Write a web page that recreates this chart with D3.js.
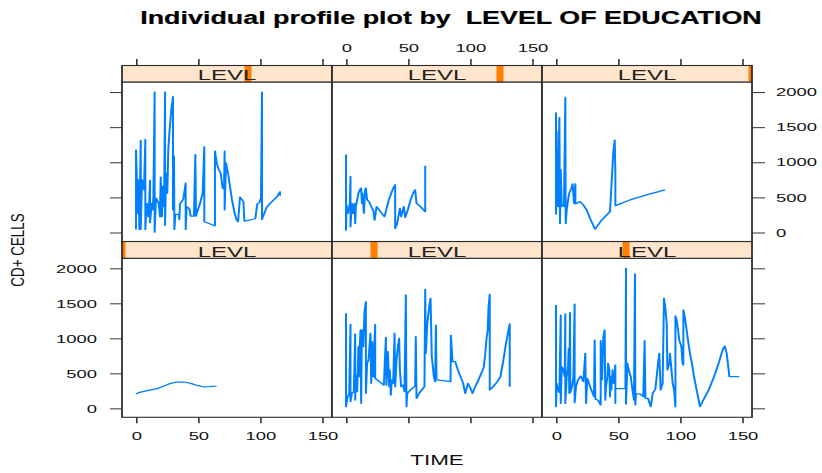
<!DOCTYPE html>
<html>
<head>
<meta charset="utf-8">
<script src="https://cdn.jsdelivr.net/npm/d3@7"></script>
<style>
  body { margin: 0; background: #fff; }
  svg { display: block; }
  text { font-family: Arial, "Liberation Sans", Helvetica, sans-serif; }
</style>
</head>
<body>
<svg id="chart" width="822" height="473"></svg>
<script>
// ---- data: [TIME, CD+ CELLS] in recorded order, one array per level ----
const levl1 = [[0,205],[3,229],[9,252],[17,281],[22.5,319],[28,357],[33,376],[39,376],[44,357],[49,329],[55,305],[59,310],[65,319]];

const levl2 = [[0,1357],[0,24],[1,143],[2.6,214],[3.6,1200],[3.6,95],[4.7,214],[6.3,238],[7.4,1062],[7.4,119],[7.9,476],[8.5,452],[9,238],[10,881],[10.6,452],[11.1,881],[11.7,1119],[12.2,71],[12.8,1119],[13.9,881],[14.4,1119],[14.9,1381],[16,1524],[16,214],[17,643],[18.1,690],[19.7,1071],[20.3,357],[21.1,952],[21.9,452],[23.5,1200],[23.5,429],[30.5,333],[32.1,1014],[32.6,333],[33.7,810],[34.8,310],[35.3,548],[36.1,190],[36.9,405],[38,357],[39.1,1071],[39.6,310],[40.7,690],[41.8,881],[42.8,1000],[43.4,548],[44.4,310],[46,333],[47.1,238],[48.2,1619],[48.7,24],[49.3,214],[51.9,262],[55.7,319],[56.2,1024],[56.8,143],[58.9,214],[63.2,310],[63.8,1700],[64.3,786],[65.4,1190],[67,1452],[68.1,1571],[69.1,738],[70.8,452],[71.8,381],[72.4,1190],[72.9,405],[84.2,381],[84.5,1043],[85.8,667],[88,667],[90.1,548],[92.2,452],[94.4,357],[96,214],[98.2,357],[100.3,286],[101.9,214],[103.5,286],[106.7,405],[111,586],[112.1,762],[113.1,976],[114.2,1119],[114.8,1443],[115.8,1629],[115.8,262],[118.6,310],[121.8,381],[124.4,452],[126.6,667],[128.7,905],[130.9,1119],[131.9,1205],[131.9,310]];

const levl3 = [[0,1476],[0,24],[0.5,357],[1.6,262],[2.7,224],[3.8,1333],[3.8,71],[4.6,595],[5.9,548],[7,452],[7.5,1348],[7.5,71],[8.6,452],[9.7,595],[10.2,857],[10.7,214],[11.3,1367],[11.5,229],[12.9,310],[14,452],[15,1490],[15,81],[16.1,310],[17.7,405],[19.9,462],[22,381],[23.6,786],[24.2,71],[25.2,429],[27.4,310],[30.6,167],[31.1,976],[31.7,129],[33.8,119],[36,48],[36,967],[37.1,405],[38.1,1024],[39.2,1119],[39.7,119],[40.3,310],[41.4,452],[41.9,643],[43,548],[43.5,167],[44,452],[44.6,262],[45.6,548],[46.7,357],[47.8,619],[47.8,71],[47.8,281],[55.9,281],[56.4,2000],[56.4,62],[57.5,643],[58.6,548],[60.2,452],[61.2,310],[62.8,119],[63.6,1919],[63.9,48],[64.4,205],[67.7,205],[70.3,167],[71.4,967],[72,143],[74.1,143],[76.3,24],[77.9,214],[80,271],[81.1,452],[82.2,643],[83.2,786],[84.3,262],[85.9,357],[87,1571],[88.1,1429],[89.2,1214],[89.7,548],[91.3,643],[91.8,786],[94,357],[95.1,262],[96.2,24],[96.2,1319],[97.2,1262],[98.3,1119],[99.3,976],[101,881],[102,643],[102.6,619],[102.6,1405],[103.7,1310],[104.7,1190],[106.3,976],[107.9,786],[109.5,643],[111.2,452],[113.3,262],[116,24],[118.7,119],[123,262],[127.3,452],[131,643],[134.2,833],[135.9,890],[137.5,786],[139.7,452],[147.7,452]];

const levl4 = [[0,43],[0,1173],[0.5,857],[1,560],[1.6,273],[2,751],[2.7,43],[3.8,1311],[3.8,43],[4.8,751],[5.4,656],[6.4,608],[7.5,1326],[7.5,43],[8.6,416],[9.9,225],[10.7,464],[11.3,742],[11.3,139],[12.6,416],[13.4,321],[14,512],[15,2000],[15,5],[16.1,488],[18.3,416],[19.3,225],[19.9,790],[20.9,225],[21.5,656],[22.6,369],[23.4,2000],[23.4,105],[24.2,847],[25.2,560],[26,1182],[27.1,1469],[28.5,1756],[29.8,1934],[29.8,321],[30.6,1086],[30.9,43],[31.7,258],[34.4,258],[34.9,187],[35.4,407],[38.1,474],[40,704],[40,43],[40.8,369],[43,340],[44,235],[46.7,235],[47.8,1110],[48.3,235],[49.4,297],[51.6,416],[53.7,560],[55,1220],[55,153],[63.6,96],[63.6,1158],[65,991],[66.6,895],[68.2,847],[69.8,632],[70.9,617],[71.4,1158],[71.4,321],[72.5,991],[74.1,847],[75.7,656],[77.3,464],[79.5,273],[81.1,177],[82.2,153],[83.8,503],[86.5,440],[87.3,163],[96.1,196],[97.7,407],[99.4,426],[100.7,498],[101.5,2000],[101.5,187],[103.1,263],[105.3,359],[108,416],[113.3,503],[116,579],[116,522]];

const levl5 = [[0,1110],[0,33],[0.4,392],[1.5,273],[2.6,369],[3.1,416],[3.6,799],[3.6,81],[4.7,416],[5.8,273],[6.8,416],[7.4,129],[7.9,369],[9,464],[10,560],[11.1,608],[12.2,632],[12.8,416],[13.3,560],[14.4,273],[15.4,608],[16,632],[17,464],[18.6,440],[20.3,369],[21.9,321],[23,177],[24.6,369],[27.8,297],[31,225],[34.5,464],[38,632],[39.6,680],[39.6,57],[41.2,129],[43.4,345],[44.4,225],[46.6,369],[47.7,215],[49.8,321],[52,464],[54.1,560],[55.7,608],[56.8,416],[60,369],[63.8,297],[63.8,952]];

const levl6 = [[0,1709],[0,263],[0.5,1445],[0.8,919],[1.6,369],[2.7,1637],[3.2,129],[3.8,895],[4.6,369],[5.4,392],[6.4,369],[7.5,1924],[7.8,129],[8.6,321],[9.7,464],[10.7,560],[12.4,632],[13.4,694],[14.5,416],[15.6,694],[15.6,407],[19.3,440],[22,392],[24.7,321],[27.4,201],[31.4,48],[36.8,177],[43.5,297],[44,464],[45.1,799],[46.1,1134],[47.3,1316],[47.8,847],[47.8,383],[59.6,464],[73,536],[87.8,608]];

// conditioning variable LEVL: one level per panel (bottom-left first, as lattice lays them out)
const levelValues = [1, 2, 3, 4, 5, 6];
const levelRange = [1, 6];
const profiles = [levl1, levl2, levl3, levl4, levl5, levl6];

const xTicks = [0, 50, 100, 150];
const yTicks = [0, 500, 1000, 1500, 2000];
const xDomain = [-11.3, 157.9];
const yDomain = [-128, 2143];

const titleText = "Individual profile plot by  LEVEL OF EDUCATION";
const xLabel = "TIME";
const yLabel = "CD+ CELLS";
const stripLabel = "LEVL";

// ---- layout (screen pixels) ----
const SX = 1.6;               // horizontal stretch of the whole figure
const ux = px => px / SX;     // screen x -> drawing x
const colEdges = [122, 332, 542, 752];
const rows = [
  { strip: [65.5, 82], panel: [82, 241.5] },       // top row
  { strip: [241.5, 258.3], panel: [258.3, 417.3] } // bottom row
];
const lineColor = "#0080ff";
const stripFill = "#ffe5cc";
const stripMark = "#ff7f00";
const frame = "#2a2a2a";
const ink = "#111";

const svg = d3.select("#chart");
const g = svg.append("g").attr("transform", `scale(${SX},1)`);
const defs = svg.append("defs");

const levelPos = d3.scaleLinear().domain(levelRange).range([0, 1]);
const line = d3.line();
const plain = d3.format("d");

profiles.forEach((data, i) => {
  const row = i < 3 ? 1 : 0;
  const col = i % 3;
  const L = ux(colEdges[col]), R = ux(colEdges[col + 1]);
  const r = rows[row];
  const x = d3.scaleLinear().domain(xDomain).range([L, R]);
  const y = d3.scaleLinear().domain(yDomain).range([r.panel[1], r.panel[0]]);

  // panel background and clip
  const clipId = "clip" + i;
  defs.append("clipPath").attr("id", clipId)
    .append("rect").attr("x", L).attr("y", r.panel[0])
    .attr("width", R - L).attr("height", r.panel[1] - r.panel[0]);

  g.append("rect").attr("x", L).attr("y", r.panel[0])
    .attr("width", R - L).attr("height", r.panel[1] - r.panel[0])
    .attr("fill", "#fff");

  g.append("path")
    .attr("clip-path", `url(#${clipId})`)
    .attr("d", line(data.map(d => [x(d[0]), y(d[1])])))
    .attr("fill", "none")
    .attr("stroke", lineColor)
    .attr("stroke-width", 1.25)
    .attr("stroke-linejoin", "round");

  g.append("rect").attr("x", L).attr("y", r.panel[0])
    .attr("width", R - L).attr("height", r.panel[1] - r.panel[0])
    .attr("fill", "none").attr("stroke", frame).attr("stroke-width", 1.1);

  // strip with level indicator
  const sClip = "sclip" + i;
  defs.append("clipPath").attr("id", sClip)
    .append("rect").attr("x", L).attr("y", r.strip[0])
    .attr("width", R - L).attr("height", r.strip[1] - r.strip[0]);
  g.append("rect").attr("x", L).attr("y", r.strip[0])
    .attr("width", R - L).attr("height", r.strip[1] - r.strip[0])
    .attr("fill", stripFill);
  const barW = ux(7);
  const cx = L + levelPos(levelValues[i]) * (R - L);
  g.append("rect").attr("clip-path", `url(#${sClip})`)
    .attr("x", cx - barW / 2).attr("y", r.strip[0])
    .attr("width", barW).attr("height", r.strip[1] - r.strip[0])
    .attr("fill", stripMark);
  g.append("text")
    .attr("x", (L + R) / 2).attr("y", r.strip[1] - 1.6)
    .attr("text-anchor", "middle")
    .attr("font-size", 15)
    .attr("fill", "#222")
    .text(stripLabel);
  g.append("rect").attr("x", L).attr("y", r.strip[0])
    .attr("width", R - L).attr("height", r.strip[1] - r.strip[0])
    .attr("fill", "none").attr("stroke", frame).attr("stroke-width", 1.1);

  // axes (alternating labels, lattice style)
  const styleAxis = (sel) => {
    sel.select(".domain").remove();
    sel.selectAll(".tick line").attr("stroke", "#333");
    sel.selectAll(".tick text").attr("fill", ink).attr("font-size", 11.5)
      .attr("font-family", 'Arial, "Liberation Sans", Helvetica, sans-serif');
  };
  const blank = () => "";

  if (row === 1) {
    const ax = d3.axisBottom(x).tickValues(xTicks).tickSize(6).tickPadding(8.4)
      .tickFormat(col === 1 ? blank : plain);
    g.append("g").attr("transform", `translate(0,${r.panel[1]})`).call(ax).call(styleAxis);
  } else {
    const ax = d3.axisTop(x).tickValues(xTicks).tickSize(6.5).tickPadding(7.5)
      .tickFormat(col !== 1 ? blank : plain);
    g.append("g").attr("transform", `translate(0,${rows[0].strip[0]})`).call(ax).call(styleAxis);
  }
  if (col === 0) {
    const ax = d3.axisLeft(y).tickValues(yTicks).tickSize(ux(12)).tickPadding(ux(13))
      .tickFormat(row === 0 ? blank : plain);
    g.append("g").attr("transform", `translate(${L},0)`).call(ax).call(styleAxis);
  }
  if (col === 2) {
    const ax = d3.axisRight(y).tickValues(yTicks).tickSize(ux(13)).tickPadding(ux(11))
      .tickFormat(row === 1 ? blank : plain);
    g.append("g").attr("transform", `translate(${R},0)`).call(ax).call(styleAxis);
  }
});

// main title: bold, scaled horizontally to span 622px centred at x=451
const title = svg.append("text")
  .attr("text-anchor", "middle")
  .attr("font-size", 18.5).attr("font-weight", "bold")
  .attr("fill", "#000")
  .attr("stroke", "#000").attr("stroke-width", 0.2)
  .style("white-space", "pre")
  .text(titleText);
const natural = title.node().getComputedTextLength() || 390;
title.attr("transform", `translate(451,24) scale(${622 / natural},1)`);

g.append("text")
  .attr("x", ux(437)).attr("y", 465)
  .attr("text-anchor", "middle")
  .attr("font-size", 14)
  .attr("fill", ink)
  .text(xLabel);

svg.append("text")
  .attr("transform", "translate(23.5,250) scale(1.35,1) rotate(-90)")
  .attr("text-anchor", "middle")
  .attr("font-size", 13.4)
  .attr("fill", ink)
  .text(yLabel);
</script>
</body>
</html>
